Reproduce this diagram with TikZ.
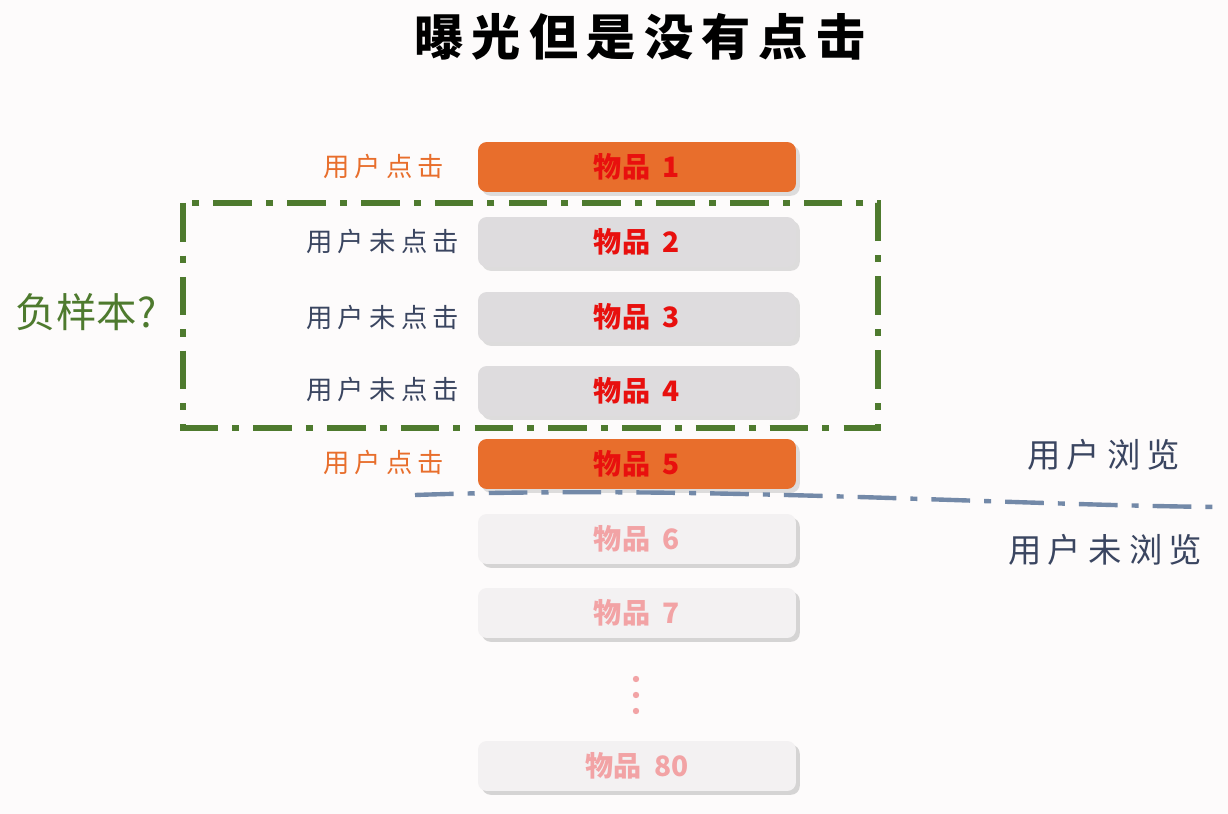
\documentclass[tikz,border=0pt]{standalone}
\usepackage{fontspec}
\newfontfamily\cjk{Noto Sans CJK SC}
\usetikzlibrary{shadows}
\definecolor{clickorange}{HTML}{E86E2C}
\definecolor{boxgray}{HTML}{DEDCDE}
\definecolor{boxpale}{HTML}{F3F1F2}
\definecolor{itemred}{HTML}{E8100E}
\definecolor{itempale}{HTML}{F2A3A5}
\definecolor{labelblue}{HTML}{3A4560}
\definecolor{neggreen}{HTML}{4E7A2E}
\definecolor{linebluegray}{HTML}{7389A8}
\definecolor{bgwhite}{HTML}{FDFBFB}
\tikzset{
  item/.style={rounded corners=5pt, minimum width=6.36cm, minimum height=1cm,
    font=\cjk\bfseries\fontsize{16}{18}\selectfont, drop shadow={opacity=0.25}},
  clicked/.style={item, fill=clickorange, text=itemred},
  unclicked/.style={item, fill=boxgray, text=itemred},
  unseen/.style={item, fill=boxpale, text=itempale, drop shadow={opacity=0.08}},
  lbl/.style={anchor=east, font=\cjk\fontsize{15}{17}\selectfont},
}
\begin{document}
\begin{tikzpicture}[x=0.02cm,y=-0.02cm]
\fill[bgwhite] (0,0) rectangle (1228,814);
\useasboundingbox (0,0) rectangle (1228,814);
\node (title) at (640,37) {\cjk\bfseries\fontsize{28}{32}\selectfont 曝\,光\,但\,是\,没\,有\,点\,击};

\node[clicked] (i1) at (637,167) {物品\ \ 1};
\node[unclicked] (i2) at (637,242) {物品\ \ 2};
\node[unclicked] (i3) at (637,317) {物品\ \ 3};
\node[unclicked] (i4) at (637,391) {物品\ \ 4};
\node[clicked] (i5) at (637,464) {物品\ \ 5};
\node[unseen] (i6) at (637,539) {物品\ \ 6};
\node[unseen] (i7) at (637,613) {物品\ \ 7};
\node[unseen] (i80) at (637,766) {物品\ \ 80};
\foreach \y in {679,695,711}
  \fill[itempale] (636,\y) circle (3.2);

\node[lbl, text=clickorange] (l1) at (450,167) {用\,户\ 点\,击};
\node[lbl, text=labelblue] (l2) at (465,242) {用\,户\ 未\ 点\,击};
\node[lbl, text=labelblue] (l3) at (465,317) {用\,户\ 未\ 点\,击};
\node[lbl, text=labelblue] (l4) at (465,389) {用\,户\ 未\ 点\,击};
\node[lbl, text=clickorange] (l5) at (450,462) {用\,户\ 点\,击};

% negative group
\draw[neggreen, line width=3.5pt, dash pattern=on 22pt off 8pt on 4pt off 8pt]
  (183,203) rectangle (878,428);
\node[text=neggreen, font=\cjk\fontsize{23}{26}\selectfont] (neg) at (86,312) {负样本?};

% browsed boundary
\draw[linebluegray, line width=2.5pt, dash pattern=on 22pt off 8pt on 4pt off 8pt]
  (415,495) .. controls (700,485) and (1000,505) .. (1218,507);
\node[text=labelblue, font=\cjk\fontsize{19}{22}\selectfont] (seen) at (1104,455) {用\,户\ 浏\,览};
\node[text=labelblue, font=\cjk\fontsize{19}{22}\selectfont] (unseenlbl) at (1105,550) {用\,户\ 未\ 浏\,览};
\end{tikzpicture}
\end{document}
